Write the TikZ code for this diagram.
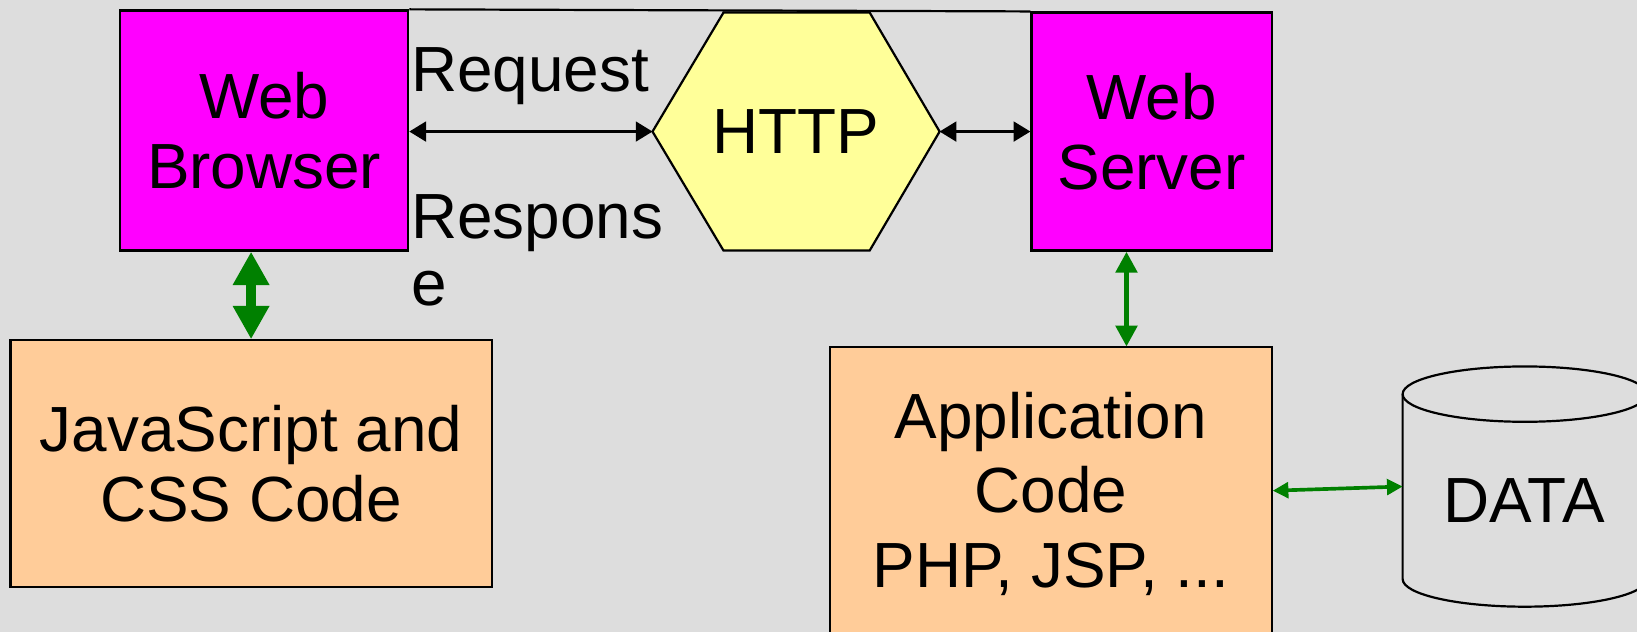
\documentclass[tikz,border=0pt]{standalone}
\usepackage{fontspec}
\setmainfont{Liberation Sans}
\usetikzlibrary{arrows.meta}
\definecolor{bggray}{HTML}{DDDDDD}
\definecolor{webpink}{HTML}{FF00FF}
\definecolor{codepeach}{HTML}{FFCC99}
\definecolor{httpyellow}{HTML}{FFFF99}
\definecolor{linkgreen}{HTML}{008000}

\begin{document}
\begin{tikzpicture}[
		box/.style={draw, line width=0.6pt, align=center, inner sep=0pt, font=\fontsize{17.4pt}{19pt}\selectfont},
		txt/.style={inner sep=0pt, font=\fontsize{17.4pt}{18.5pt}\selectfont},
		thinlink/.style={line width=0.6pt, {Triangle[width=1.9mm,length=1.6mm]}-{Triangle[width=1.9mm,length=1.6mm]}},
		biglink/.style={linkgreen, line width=2.8pt, {Triangle[width=3.3mm,length=3.2mm]}-{Triangle[width=3.3mm,length=3.2mm]}},
		midlink/.style={linkgreen, line width=1.5pt, {Triangle[width=2mm,length=2mm]}-{Triangle[width=2mm,length=2mm]}},
		datalink/.style={linkgreen, line width=1pt, {Triangle[width=1.5mm,length=1.5mm]}-{Triangle[width=1.5mm,length=1.5mm]}}
	]
	\clip (0,0) rectangle (15.68,6.05);
	\fill[bggray] (0,0) rectangle (15.68,6.05);
	% client and server boxes
	\node[box, fill=webpink, minimum width=2.76cm, minimum height=2.30cm] (browser) at (2.53,4.80) {Web\\Browser};
	\node[box, fill=webpink, minimum width=2.30cm, minimum height=2.28cm] (server) at (11.03,4.79) {Web\\Server};
	\node[box, fill=codepeach, minimum width=4.61cm, minimum height=2.36cm] (script) at (2.405,1.61) {JavaScript and\\CSS Code};
	\node[box, fill=codepeach, minimum width=4.23cm, minimum height=2.82cm, font=\fontsize{17.4pt}{20.3pt}\selectfont] (app) at (10.065,1.32) {Application\\Code\\PHP, JSP, ...};
	\draw[line width=0.6pt] (browser.north east) -- (server.north west);
	% HTTP hexagon
	\draw[fill=httpyellow, line width=0.6pt] (6.25,4.79) coordinate (httpW) -- (6.93,5.93) -- (8.33,5.93)
		-- (9.00,4.79) coordinate (httpE) -- (8.33,3.65) -- (6.93,3.65) -- cycle;
	\node[txt] (http) at (7.62,4.79) {HTTP};
	% database
	\draw[line width=0.6pt] (13.435,2.275) -- (13.435,0.504) arc[start angle=180, end angle=360, x radius=1.17cm, y radius=0.265cm] -- (15.775,2.275);
	\draw[line width=0.6pt] (14.605,2.275) ellipse [x radius=1.17cm, y radius=0.265cm];
	\coordinate (dataW) at (13.435,1.39);
	\node[txt] (data) at (14.60,1.26) {DATA};
	% labels
	\node[txt, anchor=base west] (request) at (3.93,5.17) {Request};
	\node[txt, anchor=base west, align=left, font=\fontsize{17.4pt}{18.4pt}\selectfont] (response) at (3.93,3.12) {Respons\\e};
	% connectors
	\draw[thinlink] (browser.east |- httpW) -- (httpW);
	\draw[thinlink] (httpE) -- (server.west |- httpE);
	\draw[biglink] (script.north |- browser.south) -- (script.north);
	\coordinate (appTop) at (10.79,2.73);
	\draw[midlink] (appTop |- server.south) -- (appTop);
	\draw[datalink] (app.east |- 0,1.35) -- (dataW);
\end{tikzpicture}
\end{document}
